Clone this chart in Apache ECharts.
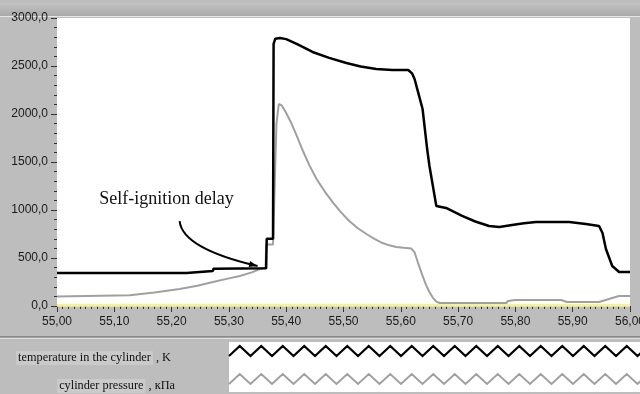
<!DOCTYPE html>
<html>
<head>
<meta charset="utf-8">
<script src="https://cdn.jsdelivr.net/npm/echarts@6/dist/echarts.min.js"></script>
<style>
  html, body { margin: 0; padding: 0; }
  #chart { width: 640px; height: 394px; background: #bdbdbd; }
</style>
</head>
<body>
<div id="chart"></div>
<script>
// temperature in the cylinder (black)
const tempTime = [55.000, 55.226, 55.227, 55.272, 55.273, 55.365, 55.366, 55.377, 55.378, 55.381,
  55.389, 55.400, 55.420, 55.446, 55.475, 55.505, 55.530, 55.557, 55.585, 55.613,
  55.620, 55.624, 55.631, 55.638, 55.646, 55.650, 55.656, 55.662, 55.679, 55.707,
  55.730, 55.754, 55.772, 55.794, 55.815, 55.836, 55.894, 55.923, 55.946, 55.952,
  55.958, 55.969, 55.981, 56.000];
const tempVal = [344, 344, 364, 364, 388, 392, 700, 700, 2730, 2785,
  2792, 2780, 2725, 2646, 2585, 2531, 2495, 2469, 2458, 2458,
  2420, 2365, 2210, 2052, 1635, 1458, 1250, 1042, 1021, 938,
  880, 833, 823, 844, 862, 875, 875, 854, 833, 760,
  594, 417, 354, 354];

// cylinder pressure (grey)
const presTime = [55.000, 55.127, 55.170, 55.214, 55.245, 55.272, 55.298, 55.319, 55.340, 55.354,
  55.364, 55.365, 55.377, 55.383, 55.387, 55.392, 55.399, 55.408, 55.419, 55.430,
  55.441, 55.453, 55.467, 55.481, 55.495, 55.510, 55.525, 55.540, 55.554, 55.568,
  55.580, 55.592, 55.605, 55.618, 55.624, 55.630, 55.638, 55.644, 55.650, 55.656,
  55.662, 55.668, 55.784, 55.787, 55.800, 55.880, 55.890, 55.946, 55.969, 55.981,
  56.000];
const presVal = [100, 112, 140, 177, 210, 250, 285, 313, 350, 385,
  400, 640, 640, 1900, 2104, 2090, 2020, 1917, 1765, 1604,
  1460, 1323, 1195, 1083, 980, 885, 810, 750, 700, 656,
  632, 615, 606, 600, 560, 450, 313, 220, 146, 85,
  45, 31, 31, 52, 62, 62, 42, 42, 83, 104,
  104];

// zero level line (yellow)
const zeroTime = [55.0, 56.0];
const zeroVal = [8, 8];

const seriesNames = ['temperature in the cylinder , K', 'cylinder pressure , кПа'];
const seriesColors = ['#000000', '#a0a0a0'];

// annotation, in data coordinates
const noteText = 'Self-ignition delay';
const notePos = [55.191, 1115];
const arrowFrom = [55.214, 885];
const arrowCtrl = [55.219, 600];
const arrowTo = [55.350, 417];

const zip = (xs, ys) => xs.map((x, i) => [x, ys[i]]);

function zigzag(x0, x1, yTop, yBot, half) {
  const pts = [];
  let i = 0;
  for (let x = x0; x <= x1 + half; x += half, i++) {
    pts.push([x, i % 2 === 0 ? yBot : yTop]);
  }
  return pts;
}

const myChart = echarts.init(document.getElementById('chart'));

myChart.setOption({
  animation: false,
  backgroundColor: '#bdbdbd',
  grid: {
    left: 57,
    right: 10,
    top: 18,
    bottom: 88,
    outerBoundsMode: 'none',
    show: true,
    backgroundColor: '#ffffff',
    borderWidth: 0,
  },
  xAxis: {
    type: 'value',
    min: 55,
    max: 56,
    interval: 0.1,
    axisLine: { show: false },
    axisTick: { show: true, length: 6, lineStyle: { color: '#333' } },
    minorTick: { show: true, splitNumber: 10, length: 3, lineStyle: { color: '#333' } },
    splitLine: { show: false },
    axisLabel: {
      margin: 10,
      color: '#1a1a1a',
      fontFamily: 'Liberation Sans',
      fontSize: 12,
      formatter: v => v.toFixed(2).replace('.', ','),
    },
  },
  yAxis: {
    type: 'value',
    min: 0,
    max: 3000,
    interval: 500,
    axisLine: { show: false },
    axisTick: { show: true, length: 6, lineStyle: { color: '#333' } },
    minorTick: { show: true, splitNumber: 5, length: 3, lineStyle: { color: '#333' } },
    splitLine: { show: false },
    axisLabel: {
      margin: 9,
      color: '#1a1a1a',
      fontFamily: 'Liberation Sans',
      fontSize: 12,
      formatter: v => v.toFixed(1).replace('.', ','),
    },
  },
  series: [
    {
      name: 'zero',
      type: 'line',
      data: zip(zeroTime, zeroVal),
      showSymbol: false,
      silent: true,
      lineStyle: { color: '#f4f29a', width: 3 },
      z: 1,
    },
    {
      name: seriesNames[1],
      type: 'line',
      data: zip(presTime, presVal),
      showSymbol: false,
      color: seriesColors[1],
      lineStyle: { color: seriesColors[1], width: 2 },
      z: 2,
    },
    {
      name: seriesNames[0],
      type: 'line',
      data: zip(tempTime, tempVal),
      showSymbol: false,
      color: seriesColors[0],
      lineStyle: { color: seriesColors[0], width: 2.5 },
      z: 3,
    },
  ],
});

// panel decoration, legend and annotation, placed through the axes
const px = p => myChart.convertToPixel({ gridIndex: 0 }, p);
const a = px(arrowFrom), c = px(arrowCtrl), b = px(arrowTo), n = px(notePos);
const ang = Math.atan2(b[1] - c[1], b[0] - c[0]);
const head = [
  [b[0], b[1]],
  [b[0] - 9 * Math.cos(ang - 0.35), b[1] - 9 * Math.sin(ang - 0.35)],
  [b[0] - 9 * Math.cos(ang + 0.35), b[1] - 9 * Math.sin(ang + 0.35)],
];

const labelStyle = {
  fontFamily: 'Liberation Serif',
  fontSize: 12.3,
  fill: '#111',
  align: 'right',
  verticalAlign: 'middle',
  rich: {
    hl: { backgroundColor: '#cacaca', padding: [1, 2], fontFamily: 'Liberation Serif', fontSize: 12.3, fill: '#111' },
  },
};

myChart.setOption({
  graphic: [
    {
      type: 'rect', z: -1, silent: true,
      shape: { x: 0, y: 3, width: 640, height: 13 },
      style: {
        fill: new echarts.graphic.LinearGradient(0, 0, 0, 1, [
          { offset: 0, color: '#c2c2c2' },
          { offset: 1, color: '#a9a9a9' },
        ]),
      },
    },
    { type: 'rect', z: -1, silent: true, shape: { x: 0, y: 16, width: 640, height: 1 }, style: { fill: '#e6e6e6' } },
    { type: 'rect', z: -1, silent: true, shape: { x: 0, y: 336, width: 640, height: 1.5 }, style: { fill: '#8a8a8a' } },
    { type: 'rect', z: -1, silent: true, shape: { x: 0, y: 338, width: 640, height: 1 }, style: { fill: '#e0e0e0' } },
    { type: 'rect', z: -1, silent: true, shape: { x: 229, y: 342, width: 411, height: 50 }, style: { fill: '#ffffff' } },
    {
      type: 'text', silent: true, x: 171, y: 358,
      style: Object.assign({ text: '{hl|temperature in the cylinder} , K' }, labelStyle),
    },
    {
      type: 'text', silent: true, x: 175, y: 386,
      style: Object.assign({ text: '{hl|cylinder pressure} , кПа' }, labelStyle),
    },
    {
      type: 'polyline', silent: true,
      shape: { points: zigzag(229, 640, 346, 356, 10.75) },
      style: { stroke: seriesColors[0], lineWidth: 2.2, fill: null },
    },
    {
      type: 'polyline', silent: true,
      shape: { points: zigzag(229, 640, 374, 384, 10.75) },
      style: { stroke: seriesColors[1], lineWidth: 2, fill: null },
    },
    {
      type: 'text', z: 10, silent: true,
      x: n[0], y: n[1],
      style: {
        text: noteText,
        fontFamily: 'Liberation Serif',
        fontSize: 18,
        fill: '#111',
        align: 'center',
        verticalAlign: 'middle',
      },
    },
    {
      type: 'bezierCurve', z: 10, silent: true,
      shape: { x1: a[0], y1: a[1], x2: b[0], y2: b[1], cpx1: c[0], cpy1: c[1] },
      style: { stroke: '#000', lineWidth: 2, fill: null },
    },
    {
      type: 'polygon', z: 10, silent: true,
      shape: { points: head },
      style: { fill: '#000' },
    },
  ],
});
</script>
</body>
</html>
